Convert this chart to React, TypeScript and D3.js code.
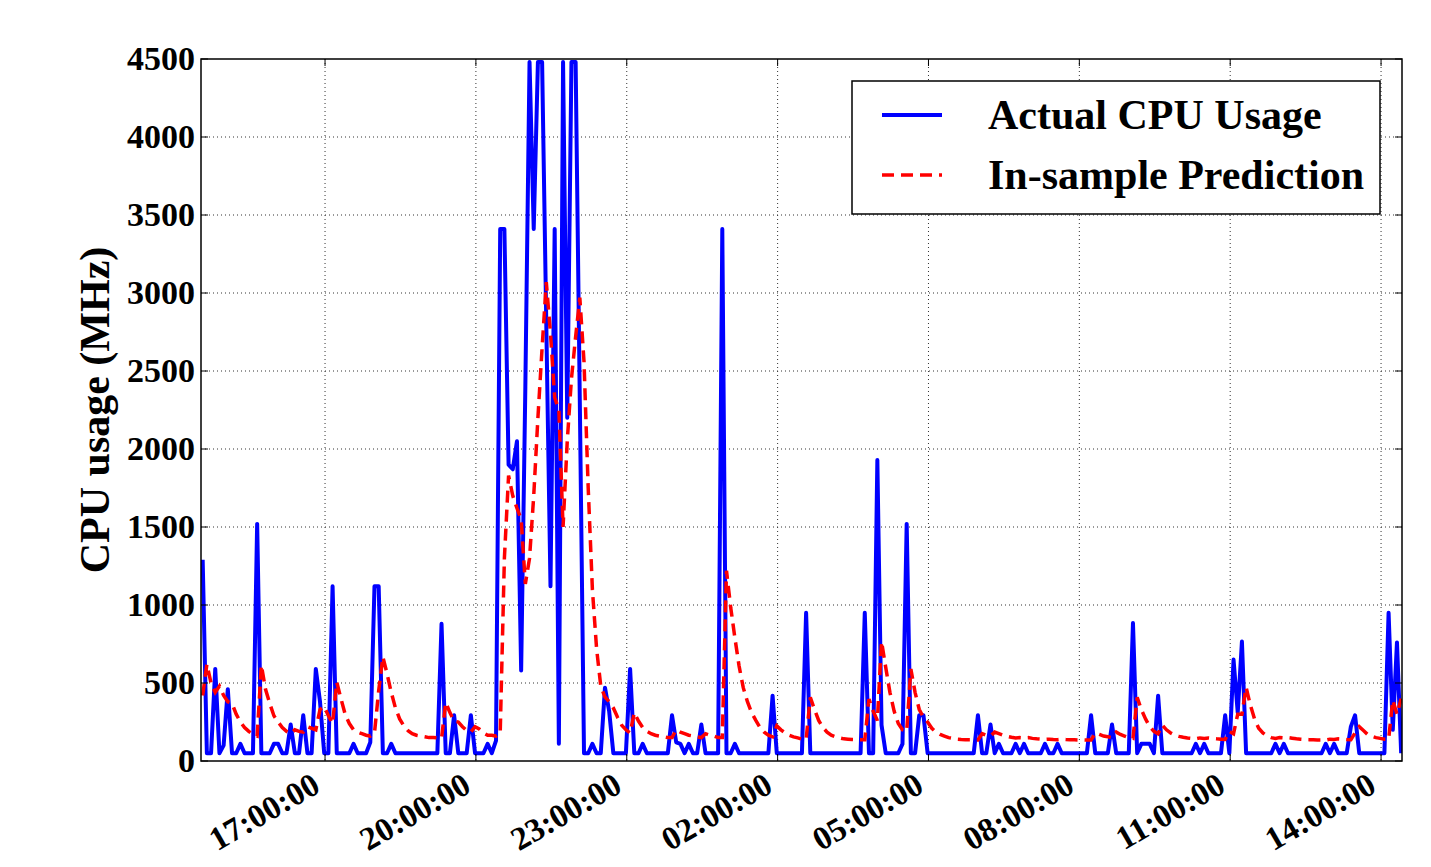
import React, { useEffect, useRef } from 'react';
import * as d3 from 'd3';

// 5 minute samples, first one at 14:34
const startTime = Date.UTC(2015, 0, 1, 14, 34);
const stepMinutes = 5;
const domainStart = Date.UTC(2015, 0, 1, 14, 32);
const domainEnd = Date.UTC(2015, 0, 2, 14, 25);

const actualCpu = [
  1290, 50, 50, 590, 50, 100, 460, 50, 50, 110, 50, 50,
  50, 1520, 50, 50, 50, 110, 110, 50, 50, 234, 50, 50,
  293, 50, 50, 590, 380, 50, 50, 1120, 50, 50, 50, 50,
  110, 50, 50, 50, 120, 1120, 1120, 50, 50, 110, 50, 50,
  50, 50, 50, 50, 50, 50, 50, 50, 50, 880, 50, 50,
  293, 50, 50, 50, 293, 50, 50, 50, 110, 50, 130, 3410,
  3410, 1900, 1870, 2050, 580, 2400, 4480, 3410, 4480, 4480, 2800, 1120,
  3410, 110, 4480, 2200, 4480, 4480, 2300, 50, 50, 110, 50, 50,
  470, 320, 50, 50, 50, 50, 590, 50, 50, 110, 50, 50,
  50, 50, 50, 50, 293, 120, 110, 50, 110, 50, 50, 234,
  50, 50, 50, 50, 3410, 50, 50, 110, 50, 50, 50, 50,
  50, 50, 50, 50, 419, 50, 50, 50, 50, 50, 50, 50,
  950, 50, 50, 50, 50, 50, 50, 50, 50, 50, 50, 50,
  50, 50, 950, 50, 50, 1930, 230, 50, 50, 50, 50, 110,
  1520, 50, 50, 293, 293, 50, 50, 50, 50, 50, 50, 50,
  50, 50, 50, 50, 50, 293, 50, 50, 234, 50, 110, 50,
  50, 50, 110, 50, 110, 50, 50, 50, 50, 110, 50, 50,
  110, 50, 50, 50, 50, 50, 50, 50, 293, 50, 50, 50,
  50, 234, 50, 50, 50, 50, 885, 50, 110, 110, 110, 50,
  419, 50, 50, 50, 50, 50, 50, 50, 50, 110, 50, 110,
  50, 50, 50, 50, 293, 50, 650, 310, 766, 50, 50, 50,
  50, 50, 50, 50, 110, 50, 110, 50, 50, 50, 50, 50,
  50, 50, 50, 50, 110, 50, 110, 50, 50, 50, 220, 293,
  50, 50, 50, 50, 50, 50, 50, 950, 200, 760, 50,
];

const predictedCpu = [
  420, 620, 500, 440, 480, 420, 380, 370, 300, 250, 215, 190,
  170, 160, 614, 460, 370, 290, 250, 215, 190, 175, 200, 190,
  185, 220, 210, 200, 330, 350, 290, 240, 505, 400, 300, 240,
  200, 185, 175, 165, 160, 180, 450, 668, 560, 440, 340, 270,
  225, 195, 175, 165, 160, 155, 150, 150, 148, 145, 375, 310,
  256, 250, 220, 195, 185, 220, 205, 180, 165, 165, 160, 175,
  1300, 1830, 1700, 1620, 1550, 1135, 1300, 1700, 2200, 2650, 3070, 2740,
  2330, 2250, 1500, 2050, 2450, 2720, 2970, 2560, 1750, 1100, 720, 480,
  410, 380, 340, 280, 230, 200, 180, 310, 256, 215, 190, 175,
  165, 160, 155, 150, 150, 200, 185, 175, 165, 160, 155, 150,
  175, 165, 160, 150, 150, 1220, 985, 790, 610, 470, 380, 310,
  260, 215, 185, 165, 155, 225, 200, 180, 165, 155, 148, 140,
  138, 408, 330, 260, 215, 185, 165, 155, 148, 142, 140, 138,
  137, 137, 137, 397, 320, 260, 766, 600, 440, 320, 240, 200,
  190, 590, 440, 330, 280, 250, 210, 185, 170, 160, 150, 145,
  140, 138, 137, 136, 136, 135, 175, 165, 160, 185, 175, 165,
  158, 152, 148, 150, 148, 150, 145, 142, 140, 138, 140, 138,
  137, 140, 138, 137, 136, 135, 135, 134, 134, 180, 170, 160,
  155, 150, 185, 170, 160, 150, 145, 408, 330, 270, 220, 190,
  175, 230, 200, 180, 165, 158, 152, 148, 145, 142, 148, 145,
  148, 145, 142, 140, 138, 190, 175, 300, 300, 473, 360, 270,
  210, 180, 160, 150, 145, 150, 148, 150, 146, 142, 140, 138,
  137, 136, 135, 135, 134, 140, 138, 142, 140, 138, 137, 180,
  220, 195, 170, 158, 150, 145, 140, 138, 390, 300, 400,
];

const yTicks = [0, 500, 1000, 1500, 2000, 2500, 3000, 3500, 4000, 4500];
const xTickLabels = ['17:00:00', '20:00:00', '23:00:00', '02:00:00', '05:00:00', '08:00:00', '11:00:00', '14:00:00'];
const seriesNames = ['Actual CPU Usage', 'In-sample Prediction'];

const FONT = '"Liberation Serif", "Times New Roman", serif';

// turn "HH:00:00" labels into dates, rolling over midnight
const xTickDates = (() => {
  let day = 1;
  let prev = -1;
  return xTickLabels.map(l => {
    const h = parseInt(l.slice(0, 2), 10);
    if (h < prev) day += 1;
    prev = h;
    return Date.UTC(2015, 0, day, h, 0);
  });
})();

const App = () => {
  const svgRef = useRef<SVGSVGElement | null>(null);
  const width = 1431;
  const height = 867;
  const left = 201, right = 1402, top = 59, bottom = 761;

  useEffect(() => {
    const svg = d3.select(svgRef.current);
    svg.selectAll('*').remove();

    const x = d3.scaleUtc().domain([domainStart, domainEnd]).range([left, right]);
    const y = d3.scaleLinear().domain([0, 4500]).range([bottom, top]);
    const t = (i: number) => startTime + i * stepMinutes * 60000;

    svg.append('defs').append('clipPath').attr('id', 'plot-clip')
      .append('rect')
      .attr('x', left).attr('y', top)
      .attr('width', right - left).attr('height', bottom - top);

    // grid
    const grid = svg.append('g')
      .attr('stroke', '#000')
      .attr('stroke-width', 1)
      .attr('stroke-dasharray', '1,3')
      .attr('opacity', 0.8);
    grid.selectAll('line.h')
      .data(yTicks.slice(1, -1))
      .join('line')
      .attr('class', 'h')
      .attr('x1', left).attr('x2', right)
      .attr('y1', d => y(d)).attr('y2', d => y(d));
    grid.selectAll('line.v')
      .data(xTickDates)
      .join('line')
      .attr('class', 'v')
      .attr('x1', d => x(d)).attr('x2', d => x(d))
      .attr('y1', top).attr('y2', bottom);

    const line = d3.line<number>()
      .x((d, i) => x(t(i)))
      .y(d => y(d));

    const plot = svg.append('g').attr('clip-path', 'url(#plot-clip)');
    plot.append('path')
      .datum(actualCpu)
      .attr('d', line)
      .attr('fill', 'none')
      .attr('stroke', '#0000ff')
      .attr('stroke-width', 4)
      .attr('stroke-linejoin', 'round');
    plot.append('path')
      .datum(predictedCpu)
      .attr('d', line)
      .attr('fill', 'none')
      .attr('stroke', '#ff0000')
      .attr('stroke-width', 3.5)
      .attr('stroke-dasharray', '12,7');

    // frame
    svg.append('rect')
      .attr('x', left).attr('y', top)
      .attr('width', right - left).attr('height', bottom - top)
      .attr('fill', 'none')
      .attr('stroke', '#000')
      .attr('stroke-width', 1.5);

    // inward ticks on all sides
    const tk = 7;
    const ticks = svg.append('g').attr('stroke', '#000').attr('stroke-width', 1);
    yTicks.forEach(v => {
      ticks.append('line').attr('x1', left).attr('x2', left + tk).attr('y1', y(v)).attr('y2', y(v));
      ticks.append('line').attr('x1', right).attr('x2', right - tk).attr('y1', y(v)).attr('y2', y(v));
    });
    xTickDates.forEach(d => {
      ticks.append('line').attr('x1', x(d)).attr('x2', x(d)).attr('y1', bottom).attr('y2', bottom - tk);
      ticks.append('line').attr('x1', x(d)).attr('x2', x(d)).attr('y1', top).attr('y2', top + tk);
    });

    // tick labels
    svg.append('g')
      .selectAll('text')
      .data(yTicks)
      .join('text')
      .attr('x', left - 6)
      .attr('y', d => y(d))
      .attr('dy', '0.33em')
      .attr('text-anchor', 'end')
      .attr('font-family', FONT)
      .attr('font-weight', 'bold')
      .attr('font-size', 34)
      .text(d => String(d));

    svg.append('g')
      .selectAll('text')
      .data(xTickDates)
      .join('text')
      .attr('transform', d => `translate(${x(d) - 3},791) rotate(-30)`)
      .attr('text-anchor', 'end')
      .attr('font-family', FONT)
      .attr('font-weight', 'bold')
      .attr('font-size', 33)
      .text((d, i) => xTickLabels[i]);

    svg.append('text')
      .attr('transform', `translate(109,${(top + bottom) / 2}) rotate(-90)`)
      .attr('text-anchor', 'middle')
      .attr('font-family', FONT)
      .attr('font-weight', 'bold')
      .attr('font-size', 42)
      .text('CPU usage (MHz)');

    // legend
    const lg = svg.append('g');
    lg.append('rect')
      .attr('x', 852).attr('y', 81)
      .attr('width', 528).attr('height', 133)
      .attr('fill', '#fff')
      .attr('stroke', '#000')
      .attr('stroke-width', 1.5);
    const rows = [
      { name: seriesNames[0], color: '#0000ff', dash: null, cy: 115 },
      { name: seriesNames[1], color: '#ff0000', dash: '12,7', cy: 175 },
    ];
    rows.forEach(r => {
      lg.append('line')
        .attr('x1', 882).attr('x2', 942)
        .attr('y1', r.cy).attr('y2', r.cy)
        .attr('stroke', r.color)
        .attr('stroke-width', r.dash ? 3.5 : 4)
        .attr('stroke-dasharray', r.dash);
      lg.append('text')
        .attr('x', 988).attr('y', r.cy + 14)
        .attr('font-family', FONT)
        .attr('font-weight', 'bold')
        .attr('font-size', 42)
        .text(r.name);
    });
  }, []);

  return (
    <svg
      ref={svgRef}
      width={width}
      height={height}
      style={{ position: 'absolute', left: 0, top: 0, background: '#fff' }}
    />
  );
};

export default App;
